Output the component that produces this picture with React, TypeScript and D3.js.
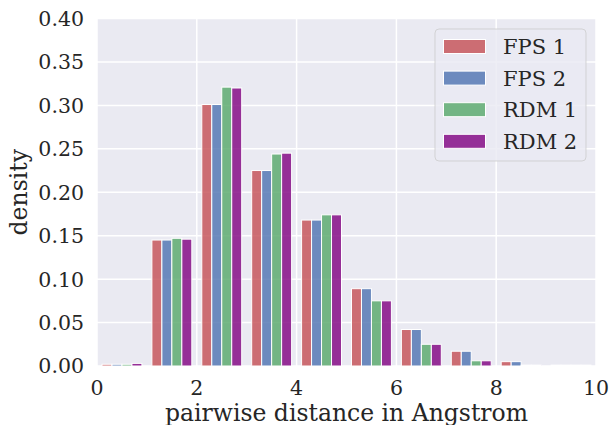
import React from "react";
import * as d3 from "d3";

const binStarts = [0, 1, 2, 3, 4, 5, 6, 7, 8, 9];
const seriesNames = ["FPS 1", "FPS 2", "RDM 1", "RDM 2"];
const seriesColors = ["#C44E52", "#4C72B0", "#55A868", "#800080"];
const fps1 = [0.002, 0.145, 0.301, 0.225, 0.168, 0.089, 0.042, 0.017, 0.005, 0.001];
const fps2 = [0.002, 0.145, 0.301, 0.225, 0.168, 0.089, 0.042, 0.017, 0.005, 0.001];
const rdm1 = [0.002, 0.147, 0.321, 0.244, 0.174, 0.075, 0.025, 0.006, 0.001, 0.001];
const rdm2 = [0.003, 0.146, 0.320, 0.245, 0.174, 0.075, 0.025, 0.006, 0.001, 0.001];
const seriesValues = [fps1, fps2, rdm1, rdm2];
const xTicks = [0, 2, 4, 6, 8, 10];
const yTicks = [0, 0.05, 0.1, 0.15, 0.2, 0.25, 0.3, 0.35, 0.4];

const W = 611, H = 425;
const left = 97, right = 596, top = 18.5, bottom = 366;
const FONT = "'DejaVu Serif', serif";

export default function App() {
  const x = d3.scaleLinear().domain([0, 10]).range([left, right]);
  const y = d3.scaleLinear().domain([0, 0.4]).range([bottom, top]);
  const binW = 1;
  const barW = (0.8 * binW) / seriesNames.length;

  return (
    <svg width={W} height={H} style={{ position: "fixed", left: 0, top: 0, background: "#fff" }}>
      <rect x={left} y={top} width={right - left} height={bottom - top} fill="#EAEAF2" />
      {xTicks.map((t) => (
        <line key={"gx" + t} x1={x(t)} x2={x(t)} y1={top} y2={bottom} stroke="#fff" strokeWidth={1.5} />
      ))}
      {yTicks.map((t) => (
        <line key={"gy" + t} x1={left} x2={right} y1={y(t)} y2={y(t)} stroke="#fff" strokeWidth={1.5} />
      ))}
      {seriesValues.map((vals, si) =>
        vals.map((v, bi) => {
          const x0 = x(binStarts[bi] + 0.1 * binW + si * barW);
          const x1 = x(binStarts[bi] + 0.1 * binW + (si + 1) * barW);
          return (
            <rect
              key={si + "-" + bi}
              x={x0}
              y={y(v)}
              width={x1 - x0}
              height={y(0) - y(v)}
              fill={seriesColors[si]}
              fillOpacity={0.8}
              stroke="#fff"
              strokeWidth={1}
            />
          );
        })
      )}
      {xTicks.map((t) => (
        <text key={"tx" + t} x={x(t)} y={395} textAnchor="middle" fontFamily={FONT} fontSize={20.5} fill="#262626">
          {t}
        </text>
      ))}
      {yTicks.map((t) => (
        <text key={"ty" + t} x={84} y={y(t)} dy="0.36em" textAnchor="end" fontFamily={FONT} fontSize={20.5} fill="#262626">
          {d3.format(".2f")(t)}
        </text>
      ))}
      <text x={(left + right) / 2} y={421} textAnchor="middle" fontFamily={FONT} fontSize={23.5} fill="#262626">
        pairwise distance in Angstrom
      </text>
      <text
        transform={`translate(27, ${(top + bottom) / 2}) rotate(-90)`}
        textAnchor="middle"
        fontFamily={FONT}
        fontSize={23.5}
        fill="#262626"
      >
        density
      </text>
      <g>
        <rect x={435} y={29} width={151} height={132} rx={4} fill="#EAEAF2" fillOpacity={0.8} stroke="#cccccc" strokeOpacity={0.8} />
        {seriesNames.map((n, i) => (
          <g key={n} transform={`translate(0, ${i * 31.6})`}>
            <rect x={443.5} y={39.5} width={42} height={14} fill={seriesColors[i]} fillOpacity={0.8} stroke="#fff" strokeWidth={1} />
            <text x={503} y={46.5} dy="0.36em" fontFamily={FONT} fontSize={21} fill="#262626">
              {n}
            </text>
          </g>
        ))}
      </g>
    </svg>
  );
}
